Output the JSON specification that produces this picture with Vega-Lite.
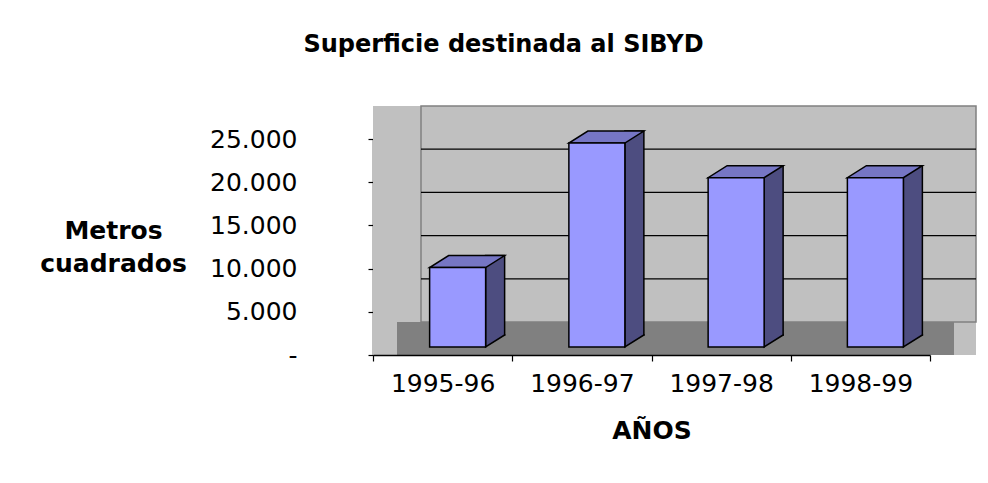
{
  "$schema": "https://vega.github.io/schema/vega-lite/v6.json",
  "width": 557,
  "height": 216,
  "autosize": "none",
  "padding": {"left": 373, "top": 139, "right": 58, "bottom": 128},
  "background": "white",
  "title": {
    "text": "Superficie destinada al SIBYD",
    "font": "DejaVu Sans",
    "fontSize": 24,
    "fontWeight": "bold",
    "color": "black",
    "anchor": "middle",
    "frame": "group",
    "dx": -148,
    "dy": -44
  },
  "config": {
    "view": {"stroke": null},
    "font": "DejaVu Sans"
  },
  "data": {
    "values": [
      {"curso": "1995-96", "m2": 9200},
      {"curso": "1996-97", "m2": 23600},
      {"curso": "1997-98", "m2": 19600},
      {"curso": "1998-99", "m2": 19600}
    ]
  },
  "layer": [
    {
      "data": {"values": [{}]},
      "mark": {"type": "rect", "fill": "#C0C0C0", "x2Offset": 46, "yOffset": -33},
      "encoding": {
        "x": {"datum": "1995-96", "type": "nominal", "bandPosition": 0, "scale": {"domain": ["1995-96", "1996-97", "1997-98", "1998-99"], "paddingInner": 0, "paddingOuter": 0}},
        "x2": {"datum": "1998-99", "bandPosition": 1},
        "y": {"datum": 25000, "type": "quantitative", "scale": {"domain": [0, 25000], "nice": false, "zero": true}},
        "y2": {"datum": 0}
      }
    },
    {
      "data": {"values": [{}]},
      "mark": {"type": "rect", "fill": "#C0C0C0", "stroke": "#808080", "strokeWidth": 1.5, "xOffset": 48, "x2Offset": 46, "yOffset": -33, "y2Offset": -33},
      "encoding": {
        "x": {"datum": "1995-96", "type": "nominal", "bandPosition": 0},
        "x2": {"datum": "1998-99", "bandPosition": 1},
        "y": {"datum": 25000, "type": "quantitative"},
        "y2": {"datum": 0}
      }
    },
    {
      "data": {"values": [{}]},
      "mark": {"type": "rect", "fill": "#808080", "xOffset": 24, "x2Offset": 24, "yOffset": -33},
      "encoding": {
        "x": {"datum": "1995-96", "type": "nominal", "bandPosition": 0},
        "x2": {"datum": "1998-99", "bandPosition": 1},
        "y": {"datum": 0, "type": "quantitative"},
        "y2": {"datum": 0}
      }
    },
    {
      "data": {"values": [{"v": 5000}, {"v": 10000}, {"v": 15000}, {"v": 20000}]},
      "mark": {"type": "rule", "color": "black", "strokeWidth": 1.3, "xOffset": 48, "x2Offset": 46, "yOffset": -33},
      "encoding": {
        "x": {"datum": "1995-96", "type": "nominal", "bandPosition": 0},
        "x2": {"datum": "1998-99", "bandPosition": 1},
        "y": {"field": "v", "type": "quantitative"}
      }
    },
    {
      "mark": {"type": "bar", "fill": "#4D4D80", "stroke": "black", "strokeWidth": 1.5, "size": 19, "xOffset": 52.5, "yOffset": -20, "y2Offset": -20},
      "encoding": {
        "x": {"field": "curso", "type": "nominal", "sort": null},
        "y": {"field": "m2", "type": "quantitative"}
      }
    },
    {
      "mark": {"type": "point", "shape": "M28,-13L28,0L47,-12L47,-13", "filled": true, "fill": "#4D4D80", "stroke": "black", "strokeWidth": 1.5, "size": 4, "opacity": 1, "xOffset": 15, "yOffset": -8},
      "encoding": {
        "x": {"field": "curso", "type": "nominal", "sort": null},
        "y": {"datum": 0, "type": "quantitative"}
      }
    },
    {
      "mark": {"type": "point", "shape": "M-28,0L28,0L47,-12L-9,-12Z", "filled": true, "fill": "#7676C4", "stroke": "black", "strokeWidth": 1.5, "size": 4, "opacity": 1, "xOffset": 15, "yOffset": -8},
      "encoding": {
        "x": {"field": "curso", "type": "nominal", "sort": null},
        "y": {"field": "m2", "type": "quantitative"}
      }
    },
    {
      "mark": {"type": "bar", "fill": "#9999FF", "stroke": "black", "strokeWidth": 1.5, "size": 56, "xOffset": 15, "yOffset": -8, "y2Offset": -8},
      "encoding": {
        "x": {
          "field": "curso",
          "type": "nominal",
          "sort": null,
          "axis": {
            "title": "AÑOS",
            "titleFont": "DejaVu Sans",
            "titleFontSize": 25,
            "titleFontWeight": "bold",
            "titleColor": "black",
            "titleBaseline": "alphabetic",
            "titleY": 83,
            "labelAngle": 0,
            "labelAlign": "center",
            "bandPosition": 0.5,
            "labelFont": "DejaVu Sans",
            "labelFontSize": 25,
            "labelColor": "black",
            "labelBaseline": "top",
            "labelPadding": 10,
            "tickSize": 6,
            "tickColor": "black",
            "tickWidth": 1.2,
            "tickBand": "extent",
            "domainColor": "black",
            "domainWidth": 1.5,
            "grid": false
          }
        },
        "y": {
          "field": "m2",
          "type": "quantitative",
          "axis": {
            "title": ["Metros", "cuadrados"],
            "titleAngle": 0,
            "titleAlign": "center",
            "titleBaseline": "top",
            "titleX": -260,
            "titleY": 79,
            "titleLineHeight": 33.5,
            "titleFont": "DejaVu Sans",
            "titleFontSize": 25,
            "titleFontWeight": "bold",
            "titleColor": "black",
            "values": [0, 5000, 10000, 15000, 20000, 25000],
            "labelExpr": "datum.value == 0 ? '-' : replace(format(datum.value, ','), ',', '.')",
            "labelFont": "DejaVu Sans",
            "labelFontSize": 25,
            "labelColor": "black",
            "labelPadding": 71,
            "tickSize": 5,
            "tickColor": "black",
            "tickWidth": 1.2,
            "domainColor": "black",
            "domainWidth": 1.5,
            "grid": false
          }
        }
      }
    }
  ]
}
